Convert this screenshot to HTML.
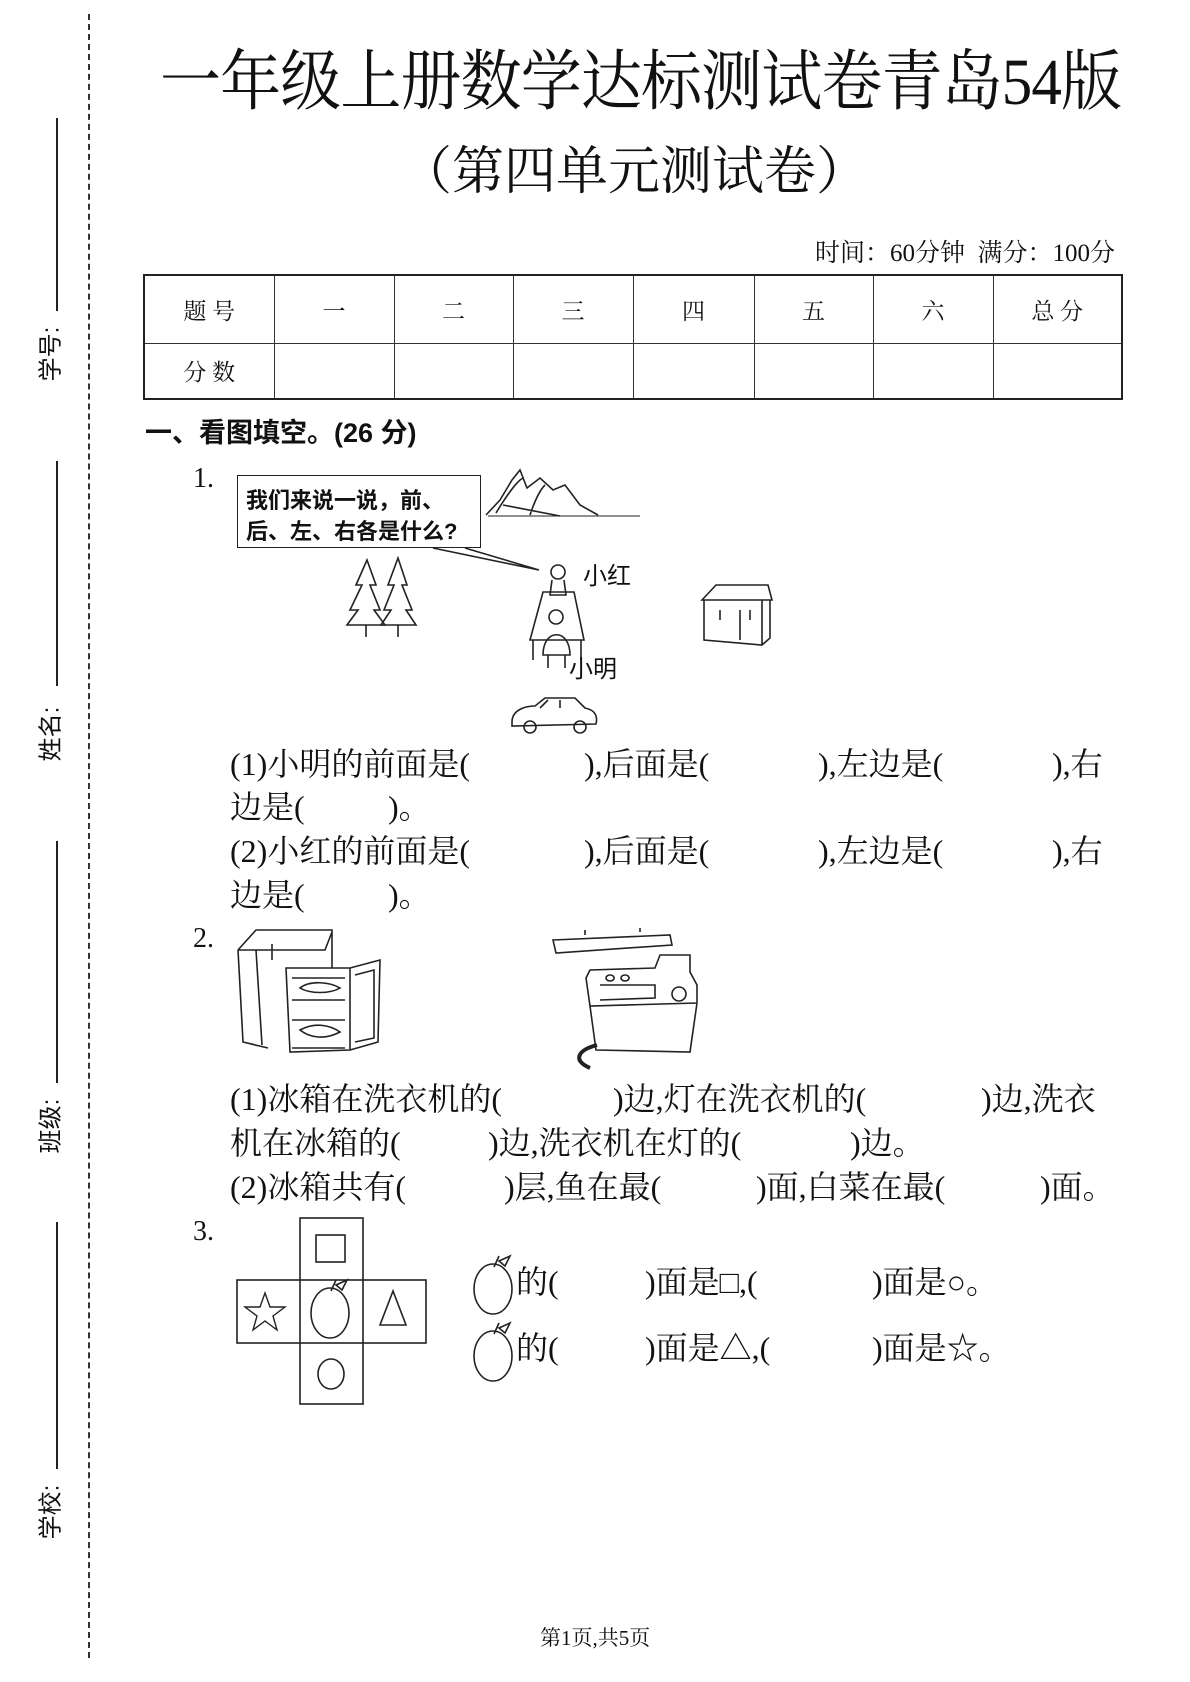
<!DOCTYPE html>
<html><head><meta charset="utf-8"><style>
body{margin:0;background:#fff;}
#p{position:relative;width:1190px;height:1682px;overflow:hidden;background:#fff;font-family:"Liberation Serif","Noto Serif CJK SC",serif;color:#111;}
.a{position:absolute;white-space:nowrap;line-height:1;}
.t{font-size:32px;}
.side{position:absolute;font-family:"Liberation Sans","Noto Sans CJK SC",sans-serif;font-size:24px;transform:rotate(-90deg);white-space:nowrap;line-height:1;}
.vl{position:absolute;left:56px;width:1.5px;background:#222;}
table{border-collapse:collapse;position:absolute;left:143px;top:274px;width:978px;height:126px;table-layout:fixed;}
td{border:1px solid #333;text-align:center;font-size:23px;font-family:"Liberation Serif","Noto Serif CJK SC",serif;}
</style></head><body><div id="p">
<div style="position:absolute;left:88px;top:14px;height:1644px;border-left:2.5px dashed #333;"></div>
<div class="vl" style="top:118px;height:193px"></div>
<div class="vl" style="top:461px;height:225px"></div>
<div class="vl" style="top:841px;height:242px"></div>
<div class="vl" style="top:1222px;height:247px"></div>
<div class="side" style="left:24px;top:342px">学号:</div>
<div class="side" style="left:24px;top:722px">姓名:</div>
<div class="side" style="left:24px;top:1114px">班级:</div>
<div class="side" style="left:24px;top:1500px">学校:</div>

<div class="a" style="left:160px;top:50px;font-size:66px;letter-spacing:-1px;transform:scaleX(0.925);transform-origin:0 0">一年级上册数学达标测试卷青岛54版</div>
<div class="a" style="left:400px;top:147px;font-size:52px">（第四单元测试卷）</div>
<div class="a" style="right:75px;top:241px;font-size:25px">时间：60分钟&nbsp; 满分：100分</div>
<table>
<colgroup><col style="width:130px"><col style="width:120px"><col style="width:119px"><col style="width:120px"><col style="width:121px"><col style="width:119px"><col style="width:120px"><col style="width:129px"></colgroup>
<tr style="height:68px;border-top:2.5px solid #222"><td style="border-left:2.5px solid #222">题 号</td><td>一</td><td>二</td><td>三</td><td>四</td><td>五</td><td>六</td><td style="border-right:2.5px solid #222">总 分</td></tr>
<tr style="border-bottom:2.5px solid #222"><td style="border-left:2.5px solid #222">分 数</td><td></td><td></td><td></td><td></td><td></td><td></td><td style="border-right:2.5px solid #222"></td></tr>
</table>
<div class="a" style="left:145px;top:420px;font-size:27px;font-weight:bold;font-family:'Liberation Sans','Noto Sans CJK SC',sans-serif">一、看图填空。(26 分)</div>
<div class="a t" style="left:193px;top:465px;font-size:28px">1.</div>

<div style="position:absolute;left:237px;top:475px;width:242px;height:71px;border:1.5px solid #222"></div>
<div class="a" style="left:246px;top:485px;font-size:22px;font-weight:bold;font-family:'Liberation Sans','Noto Sans CJK SC',sans-serif;line-height:31px">我们来说一说，前、<br>后、左、右各是什么?</div>
<svg style="position:absolute;left:0;top:0" width="1190" height="1682" fill="none" stroke="#222" stroke-width="1.6">
<polyline points="433,548 539,570 465,548"/>
<path d="M486,515 L500,500 L512,480 L520,470 L527,488 L540,478 L553,490 L565,485 L580,505 L598,515 M496,513 C510,490 520,478 524,478 M530,515 C535,500 540,490 545,485 M503,505 L560,516"/>
<path d="M488,516 L640,516" stroke-width="1"/>
<path d="M367,560 L356,585 L362,585 L350,610 L358,610 L347,625 L385,625 L374,610 L380,610 L370,585 L376,585 Z M366,625 L366,637"/>
<path d="M398,558 L388,585 L394,585 L384,610 L391,610 L381,625 L416,625 L406,610 L412,610 L402,585 L407,585 Z M398,625 L398,637"/>
<circle cx="558" cy="572" r="7"/><path d="M552,580 L550,595 L566,595 L564,580"/>
<path d="M543,592 L574,592 L584,640 L530,640 Z M533,640 L533,660 M581,640 L581,660"/>
<circle cx="556" cy="617" r="7"/><path d="M543,655 C543,628 570,628 570,655 Z M548,655 L548,668 M565,655 L565,668"/>
<path d="M702,600 L716,585 L768,585 L772,600 Z M704,600 L704,640 L762,645 L770,638 L770,600 M762,600 L762,645 M720,610 L720,620 M740,610 L740,640 M750,610 L750,620"/>
<path d="M512,722 C512,710 525,706 535,706 L545,698 L575,698 L585,708 C595,710 598,716 596,724 L512,726 Z M540,708 L548,700 M560,700 L560,708"/>
<circle cx="530" cy="727" r="6"/><circle cx="580" cy="727" r="6"/>
<path d="M238,950 L256,930 L332,930 L332,968 M238,950 L243,1042 L268,1048 M256,950 L262,1045 M238,950 L325,950 L332,932 M272,944 L272,960"/>
<path d="M286,968 L350,968 L350,1050 L290,1052 Z M292,978 L345,978 M292,1000 L345,1000 M292,1020 L345,1020 M292,1048 L345,1048 M350,968 L380,960 L378,1042 L350,1050 M355,975 L374,970 L374,1038 L355,1042"/>
<path d="M300,988 C310,980 330,982 340,988 C330,994 310,994 300,988 Z M300,1030 C315,1022 330,1025 340,1032 C325,1040 310,1038 300,1030 Z"/>
<path d="M553,940 L670,935 L672,945 L556,953 Z M585,935 L585,930 M640,932 L640,928"/>
<path d="M586,978 L590,970 L655,968 L660,955 L690,955 L690,972 L697,985 L697,1003 L590,1006 Z M590,1006 L596,1050 L690,1052 L697,1003 M610,975 A4,3 0 1 0 610.1,975 M625,975 A4,3 0 1 0 625.1,975"/>
<circle cx="679" cy="994" r="7"/><path d="M600,985 L655,985 L655,998 L600,1000"/>
<path d="M597,1045 C578,1050 572,1060 590,1068" stroke-width="4"/>
<rect x="300" y="1218" width="63" height="186" stroke-width="1.6"/>
<rect x="237" y="1280" width="189" height="63" stroke-width="1.6"/>
<rect x="316" y="1235" width="29" height="27"/>
<polygon points="265,1293 270,1307 285,1307 273,1316 277,1330 265,1321 253,1330 257,1316 245,1307 260,1307" stroke-width="1.4"/>
<polygon points="393,1291 380,1325 406,1325" stroke-width="1.6"/>
<ellipse cx="331" cy="1374" rx="13" ry="15"/>
<ellipse cx="330" cy="1313" rx="19" ry="25"/><path d="M331,1291 L336,1280 M336,1285 L347,1280 L342,1290 Z"/>
<ellipse cx="493" cy="1289" rx="19" ry="25"/><path d="M494,1267 L499,1256 M499,1261 L510,1256 L505,1266 Z"/>
<ellipse cx="493" cy="1356" rx="19" ry="25"/><path d="M494,1334 L499,1323 M499,1328 L510,1323 L505,1333 Z"/>
</svg>
<div class="a" style="left:583px;top:565px;font-size:24px;font-family:'Liberation Sans','Noto Sans CJK SC',sans-serif">小红</div>
<div class="a" style="left:569px;top:658px;font-size:24px;font-family:'Liberation Sans','Noto Sans CJK SC',sans-serif">小明</div>

<div class="a t" style="left:230px;top:748px">(1)小明的前面是(</div>
<div class="a t" style="left:584px;top:748px">),后面是(</div>
<div class="a t" style="left:818px;top:748px">),左边是(</div>
<div class="a t" style="left:1052px;top:748px">),右</div>
<div class="a t" style="left:230px;top:791px">边是(</div>
<div class="a t" style="left:388px;top:791px">)。</div>
<div class="a t" style="left:230px;top:835px">(2)小红的前面是(</div>
<div class="a t" style="left:584px;top:835px">),后面是(</div>
<div class="a t" style="left:818px;top:835px">),左边是(</div>
<div class="a t" style="left:1052px;top:835px">),右</div>
<div class="a t" style="left:230px;top:879px">边是(</div>
<div class="a t" style="left:388px;top:879px">)。</div>

<div class="a t" style="left:193px;top:925px;font-size:28px">2.</div>
<div class="a t" style="left:230px;top:1083px">(1)冰箱在洗衣机的(</div>
<div class="a t" style="left:613px;top:1083px">)边,灯在洗衣机的(</div>
<div class="a t" style="left:981px;top:1083px">)边,洗衣</div>
<div class="a t" style="left:230px;top:1127px">机在冰箱的(</div>
<div class="a t" style="left:488px;top:1127px">)边,洗衣机在灯的(</div>
<div class="a t" style="left:850px;top:1127px">)边。</div>
<div class="a t" style="left:230px;top:1171px">(2)冰箱共有(</div>
<div class="a t" style="left:504px;top:1171px">)层,鱼在最(</div>
<div class="a t" style="left:756px;top:1171px">)面,白菜在最(</div>
<div class="a t" style="left:1040px;top:1171px">)面。</div>

<div class="a t" style="left:193px;top:1218px;font-size:28px">3.</div>
<div class="a t" style="left:516px;top:1266px">的(</div>
<div class="a t" style="left:645px;top:1266px">)面是□,(</div>
<div class="a t" style="left:872px;top:1266px">)面是○。</div>
<div class="a t" style="left:516px;top:1332px">的(</div>
<div class="a t" style="left:645px;top:1332px">)面是△,(</div>
<div class="a t" style="left:872px;top:1332px">)面是☆。</div>

<div class="a" style="left:540px;top:1628px;font-size:21px">第1页,共5页</div>
</div></body></html>
